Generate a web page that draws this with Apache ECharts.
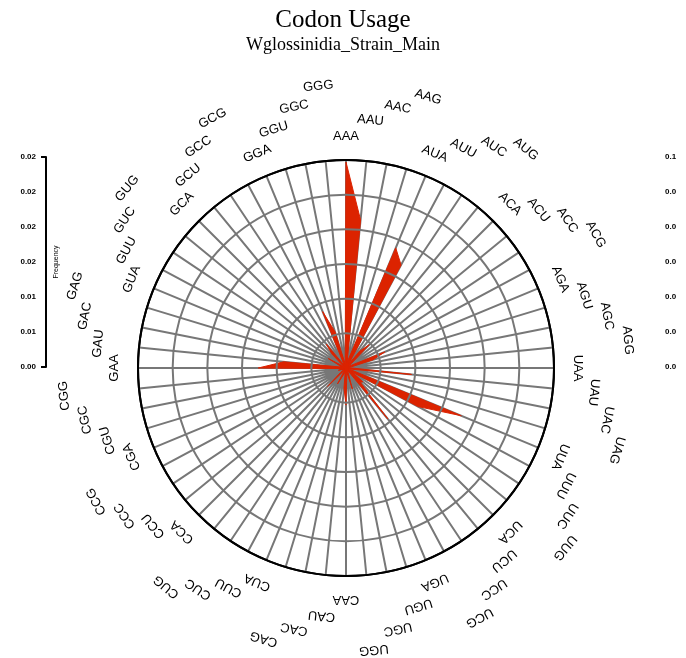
<!DOCTYPE html>
<html>
<head>
<meta charset="utf-8">
<script src="https://cdn.jsdelivr.net/npm/echarts@6/dist/echarts.min.js"></script>
<style>
html, body { margin: 0; padding: 0; background: #fff; }
#main { width: 686px; height: 658px; }
</style>
</head>
<body>
<div id="main"></div>
<script>
// codons clockwise from the top
var codons = [
    'AAA','AAU','AAC','AAG','AUA','AUU','AUC','AUG','ACA','ACU','ACC','ACG','AGA','AGU','AGC','AGG',
    'UAA','UAU','UAC','UAG','UUA','UUU','UUC','UUG','UCA','UCU','UCC','UCG','UGA','UGU','UGC','UGG',
    'CAA','CAU','CAC','CAG','CUA','CUU','CUC','CUG','CCA','CCU','CCC','CCG','CGA','CGU','CGC','CGG',
    'GAA','GAU','GAC','GAG','GUA','GUU','GUC','GUG','GCA','GCU','GCC','GCG','GGA','GGU','GGC','GGG'
];
var frequency = [
    0.0594,0.0429,0.0017,0.0012,0.0375,0.0337,0.0014,0.0063,0.0095,0.0020,0.0008,0.0007,0.0121,0.0081,0.0014,0.0008,
    0.0017,0.0190,0.0020,0.0007,0.0360,0.0236,0.0020,0.0063,0.0058,0.0190,0.0008,0.0007,0.0012,0.0063,0.0012,0.0022,
    0.0107,0.0058,0.0012,0.0017,0.0014,0.0052,0.0007,0.0012,0.0075,0.0020,0.0006,0.0012,0.0012,0.0023,0.0008,0.0006,
    0.0253,0.0181,0.0014,0.0017,0.0023,0.0058,0.0008,0.0012,0.0058,0.0089,0.0008,0.0012,0.0176,0.0109,0.0012,0.0008
];
var leftTicks = ['0.00','0.01','0.01','0.02','0.02','0.02','0.02'];
var rightTicks = ['0.0','0.0','0.0','0.0','0.0','0.0','0.1'];
var rMax = 0.06;

var myChart = echarts.init(document.getElementById('main'));
var n = codons.length;

// polygon, closed by repeating the first codon at angle n
var lineData = frequency.map(function (v, i) { return [v, i]; });
lineData.push([frequency[0], n]);

// labels staggered outward in groups of four
var labelData = codons.map(function (c, i) {
    return [rMax * (1.115 + 0.082 * (i % 4)), i];
});

var option = {
    animation: false,
    title: {
        text: 'Codon Usage',
        subtext: 'Wglossinidia_Strain_Main',
        left: 'center',
        top: 3,
        itemGap: 3,
        textStyle: { fontFamily: 'Liberation Serif', fontSize: 25, fontWeight: 'normal', color: '#000' },
        subtextStyle: { fontFamily: 'Liberation Serif', fontSize: 18, color: '#000' }
    },
    polar: { center: [346, 368], radius: 208 },
    // spokes sit under the red area, rings above it
    angleAxis: {
        type: 'value', min: 0, max: n, interval: 1,
        startAngle: 90, clockwise: true, z: 0,
        axisLine: { lineStyle: { color: '#000', width: 2 } },
        axisTick: { show: false },
        axisLabel: { show: false },
        splitLine: { lineStyle: { color: '#777', width: 2 } }
    },
    radiusAxis: {
        type: 'value', min: 0, max: rMax, interval: 0.01, z: 3,
        axisLine: { show: false },
        axisTick: { show: false },
        axisLabel: { show: false },
        splitLine: { lineStyle: { color: ['#777', '#777', '#777', '#777', '#777', '#777', '#000'], width: 2 } }
    },
    grid: [
        { left: 46, top: 157, width: 1, height: 210 },
        { left: 640, top: 157, width: 20, height: 210 }
    ],
    xAxis: [
        { gridIndex: 0, type: 'value', show: false },
        { gridIndex: 1, type: 'value', show: false }
    ],
    yAxis: [
        {
            gridIndex: 0, type: 'category', data: leftTicks, boundaryGap: false,
            axisLine: { lineStyle: { color: '#000', width: 2 } },
            axisTick: {
                length: 5, lineStyle: { color: '#000', width: 2 },
                interval: function (i) { return i === 0 || i === leftTicks.length - 1; }
            },
            axisLabel: { interval: 0, margin: 10, fontSize: 8, fontWeight: 'bold', color: '#000', fontFamily: 'Liberation Sans' },
            splitLine: { show: false },
            name: 'Frequency', nameLocation: 'middle', nameRotate: 90, nameGap: -14,
            nameTextStyle: { fontSize: 7, color: '#000', fontFamily: 'Liberation Sans' }
        },
        {
            gridIndex: 1, type: 'category', data: rightTicks, boundaryGap: false, position: 'right',
            axisLine: { show: false },
            axisTick: { show: false },
            axisLabel: { interval: 0, margin: 5, fontSize: 8, fontWeight: 'bold', color: '#000', fontFamily: 'Liberation Sans' },
            splitLine: { show: false }
        }
    ],
    series: [
        {
            name: 'Frequency',
            type: 'line',
            coordinateSystem: 'polar',
            data: lineData,
            symbol: 'none',
            z: 2,
            lineStyle: { color: '#dc2300', width: 1 },
            areaStyle: { color: '#dc2300', opacity: 1 }
        },
        {
            type: 'custom',
            coordinateSystem: 'polar',
            data: labelData,
            z: 10,
            silent: true,
            renderItem: function (params, api) {
                var p = api.coord([api.value(0), api.value(1)]);
                var ang = api.value(1) / n * Math.PI * 2;
                return {
                    type: 'text',
                    x: p[0], y: p[1],
                    rotation: -ang,
                    style: {
                        text: codons[params.dataIndex],
                        fill: '#000',
                        font: '13px "Liberation Sans"',
                        align: 'center',
                        verticalAlign: 'middle'
                    }
                };
            }
        }
    ]
};

myChart.setOption(option);
</script>
</body>
</html>
